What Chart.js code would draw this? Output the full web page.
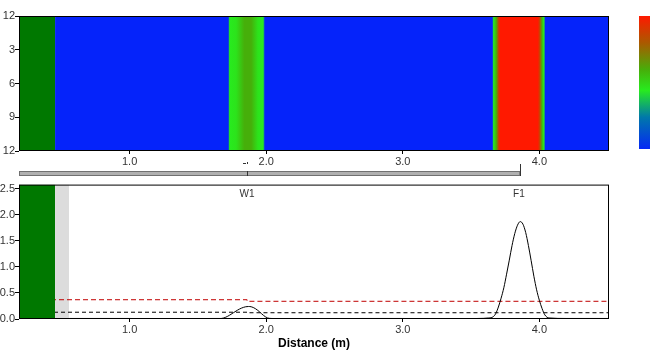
<!DOCTYPE html>
<html>
<head>
<meta charset="utf-8">
<script src="https://cdn.jsdelivr.net/npm/chart.js@4/dist/chart.umd.min.js"></script>
<style>
  body { margin: 0; background: #fff; }
  #wrap { position: relative; width: 650px; height: 355px; }
  canvas { position: absolute; left: 0; }
  #mapChart { top: 0; }
  #profileChart { top: 178px; }
</style>
</head>
<body>
<div id="wrap">
  <canvas id="mapChart" width="650" height="180"></canvas>
  <canvas id="profileChart" width="650" height="177"></canvas>
</div>
<script>
// distance axis (m)
const xMin = 0.19, xMax = 4.51;

// zones at the start of the scan
const greenZone = [0.19, 0.454];
const greyZone = [0.454, 0.557];

// top map: clock position labels and colour level along the pipe
const clockLabels = ['12', '3', '6', '9', '12'];
const heatX   = [0.454, 1.722, 1.732, 1.78, 1.84, 1.89, 1.94, 1.978, 1.99, 3.655, 3.665, 3.685, 3.70, 3.712, 3.99, 4.003, 4.018, 4.033, 4.045, 4.51];
const heatVal = [0,     0,     0.45,  0.47, 0.6,  0.6,  0.47, 0.45,  0,    0,     0.45,  0.6,   0.85, 1,     1,    0.85,  0.6,   0.45,  0,     0];

// scan bar under the map
const scanEnd = 3.86;
const cursorPos = 1.86;

// bottom profile
const profileX = [0.557, 0.8, 1.0, 1.3, 1.6, 1.67, 1.70, 1.73, 1.76, 1.79, 1.82, 1.85, 1.87, 1.89, 1.92, 1.95, 1.98, 2.01, 2.04, 2.3, 2.7, 3.0, 3.3, 3.55, 3.63, 3.66, 3.68, 3.70, 3.72, 3.74, 3.76, 3.78, 3.80, 3.82, 3.84, 3.86, 3.88, 3.90, 3.92, 3.94, 3.96, 3.98, 4.00, 4.02, 4.04, 4.07, 4.2, 4.4, 4.51];
const profileY = [0.01, 0.01, 0.01, 0.0, 0.01, 0.01, 0.03, 0.07, 0.12, 0.17, 0.21, 0.235, 0.24, 0.235, 0.2, 0.14, 0.07, 0.02, 0.01, 0.0, 0.01, 0.01, 0.0, 0.01, 0.02, 0.04, 0.1, 0.23, 0.4, 0.6, 0.86, 1.13, 1.41, 1.64, 1.8, 1.87, 1.82, 1.66, 1.41, 1.12, 0.82, 0.56, 0.36, 0.2, 0.08, 0.02, 0.01, 0.01, 0.01];

// threshold lines
const redLimitX = [0.19, 1.86, 4.51];
const redLimitY = [0.37, 0.34, 0.34];
const blackLimitX = [0.19, 1.86, 4.51];
const blackLimitY = [0.13, 0.12, 0.12];

// peak names
const peakNames = ['W1', 'F1'];
const peakPos = [1.86, 3.85];

// colour map: blue -> green -> red
const cmapPos = [0, 0.25, 0.45, 0.6, 0.8, 1];
const cmapRGB = [[5, 35, 250], [0, 120, 170], [40, 235, 30], [70, 175, 10], [170, 90, 0], [255, 25, 0]];

const colormap = (t) => {
  let i = 1;
  while (i < cmapPos.length - 1 && t > cmapPos[i]) i++;
  const f = Math.max(0, Math.min(1, (t - cmapPos[i - 1]) / (cmapPos[i] - cmapPos[i - 1])));
  const c = cmapRGB[i - 1].map((v, k) => Math.round(v + (cmapRGB[i][k] - v) * f));
  return `rgb(${c[0]},${c[1]},${c[2]})`;
};

const FONT = 'Liberation Sans, Arial, sans-serif';
Chart.defaults.font.family = FONT;
Chart.defaults.color = '#333';

// box around plot area
const frame = {
  id: 'frame',
  afterDraw(chart) {
    const { ctx, chartArea: a } = chart;
    ctx.save();
    ctx.strokeStyle = '#000';
    ctx.lineWidth = 1;
    ctx.strokeRect(a.left + 0.5, a.top + 0.5, a.right - a.left - 1, a.bottom - a.top - 1);
    ctx.restore();
  }
};

// colour scale + scan bar for the map
const mapExtras = {
  id: 'mapExtras',
  afterDraw(chart) {
    const { ctx, chartArea: a, scales } = chart;
    ctx.save();
    // colour bar
    const g = ctx.createLinearGradient(0, a.bottom, 0, a.top);
    cmapPos.forEach((p) => g.addColorStop(p, colormap(p)));
    ctx.fillStyle = g;
    ctx.fillRect(a.right + 30, a.top, 12, a.bottom - a.top - 2);

    // scan bar
    const x0 = scales.x.getPixelForValue(xMin);
    const x1 = scales.x.getPixelForValue(scanEnd);
    const xc = Math.round(scales.x.getPixelForValue(cursorPos));
    const yb = a.bottom + 20;
    ctx.fillStyle = '#b0b0b0';
    ctx.fillRect(x0, yb, x1 - x0, 5);
    ctx.strokeStyle = '#707070';
    ctx.lineWidth = 1;
    ctx.strokeRect(x0 + 0.5, yb + 0.5, x1 - x0 - 1, 4);
    ctx.strokeStyle = '#333';
    ctx.beginPath();
    ctx.moveTo(xc + 0.5, yb);
    ctx.lineTo(xc + 0.5, yb + 5);
    ctx.moveTo(Math.round(x1) + 0.5, yb - 7);
    ctx.lineTo(Math.round(x1) + 0.5, yb + 5);
    ctx.moveTo(xc - 4, yb - 7.5);
    ctx.lineTo(xc - 1, yb - 7.5);
    ctx.stroke();
    ctx.fillStyle = '#333';
    ctx.fillRect(xc, yb - 9, 1, 2);
    ctx.restore();
  }
};

// peak names above the profile
const peakLabels = {
  id: 'peakLabels',
  afterDatasetsDraw(chart) {
    const { ctx, chartArea: a, scales } = chart;
    ctx.save();
    ctx.font = '10px ' + FONT;
    ctx.fillStyle = '#333';
    ctx.textAlign = 'center';
    ctx.textBaseline = 'middle';
    peakNames.forEach((n, i) => ctx.fillText(n, scales.x.getPixelForValue(peakPos[i]), a.top + 10));
    ctx.restore();
  }
};

const xAxis = (height, withTitle) => ({
  type: 'linear',
  min: xMin,
  max: xMax,
  afterFit: (s) => { s.height = height; },
  grid: { drawOnChartArea: false, drawTicks: true, tickLength: 3, color: '#000' },
  border: { display: false },
  ticks: {
    stepSize: 1,
    includeBounds: false,
    padding: 1,
    font: { size: 11 },
    callback: (v) => v.toFixed(1)
  },
  title: withTitle ? {
    display: true,
    text: 'Distance (m)',
    color: '#000',
    font: { size: 12, weight: 'bold' },
    padding: { top: 0, bottom: 4 }
  } : { display: false }
});

const yAxisBase = {
  type: 'linear',
  afterFit: (s) => { s.width = 19; },
  grid: { drawOnChartArea: false, drawTicks: true, tickLength: 4, color: '#000' },
  border: { display: false }
};

const flat = (x0, x1, y) => [{ x: x0, y: y }, { x: x1, y: y }];

// top: pipe map
new Chart(document.getElementById('mapChart'), {
  type: 'line',
  data: {
    datasets: [
      {
        data: flat(greenZone[0], greenZone[1], 12),
        fill: { value: 0 },
        backgroundColor: '#007800',
        borderWidth: 0,
        pointRadius: 0
      },
      {
        data: heatX.map((x) => ({ x: x, y: 12 })),
        fill: { value: 0 },
        borderWidth: 0,
        pointRadius: 0,
        backgroundColor: (c) => {
          const { chart } = c;
          if (!chart.chartArea) return colormap(0);
          const sx = chart.scales.x;
          const p0 = sx.getPixelForValue(heatX[0]);
          const p1 = sx.getPixelForValue(heatX[heatX.length - 1]);
          const g = chart.ctx.createLinearGradient(p0, 0, p1, 0);
          heatX.forEach((x, i) => {
            g.addColorStop((sx.getPixelForValue(x) - p0) / (p1 - p0), colormap(heatVal[i]));
          });
          return g;
        }
      }
    ]
  },
  options: {
    responsive: false,
    animation: false,
    layout: { padding: { top: 16, right: 41, bottom: 0, left: 0 } },
    plugins: { legend: { display: false }, tooltip: { enabled: false } },
    scales: {
      x: xAxis(29, false),
      y: {
        ...yAxisBase,
        min: 0,
        max: 12,
        reverse: true,
        ticks: {
          stepSize: 3,
          padding: 0,
          font: { size: 11 },
          callback: (v) => clockLabels[v / 3]
        }
      }
    }
  },
  plugins: [mapExtras, frame]
});

// bottom: signal profile (dataset 0 is drawn last, i.e. on top)
new Chart(document.getElementById('profileChart'), {
  type: 'line',
  data: {
    datasets: [
      {
        data: flat(greenZone[0], greenZone[1], 2.58),
        fill: { value: 0 },
        backgroundColor: '#007800',
        borderWidth: 0,
        pointRadius: 0
      },
      {
        data: profileX.map((x, i) => ({ x: x, y: profileY[i] })),
        borderColor: '#000',
        borderWidth: 1,
        cubicInterpolationMode: 'monotone',
        pointRadius: 0
      },
      {
        data: blackLimitX.map((x, i) => ({ x: x, y: blackLimitY[i] })),
        stepped: true,
        borderColor: '#000',
        borderWidth: 1,
        borderDash: [4, 3],
        pointRadius: 0
      },
      {
        data: redLimitX.map((x, i) => ({ x: x, y: redLimitY[i] })),
        stepped: true,
        borderColor: '#c00000',
        borderWidth: 1,
        borderDash: [5, 3],
        pointRadius: 0
      },
      {
        data: flat(xMin, xMax, 0),
        borderColor: '#a00000',
        borderWidth: 1.5,
        pointRadius: 0
      },
      {
        data: flat(greyZone[0], greyZone[1], 2.58),
        fill: { value: 0 },
        backgroundColor: '#dcdcdc',
        borderWidth: 0,
        pointRadius: 0
      }
    ]
  },
  options: {
    responsive: false,
    animation: false,
    layout: { padding: { top: 5, right: 41, bottom: 0, left: 0 } },
    plugins: { legend: { display: false }, tooltip: { enabled: false } },
    scales: {
      x: xAxis(36, true),
      y: {
        ...yAxisBase,
        min: 0,
        max: 2.58,
        ticks: {
          stepSize: 0.5,
          includeBounds: false,
          padding: 0,
          font: { size: 11 },
          callback: (v) => v.toFixed(1)
        }
      }
    }
  },
  plugins: [peakLabels, frame]
});
</script>
</body>
</html>
